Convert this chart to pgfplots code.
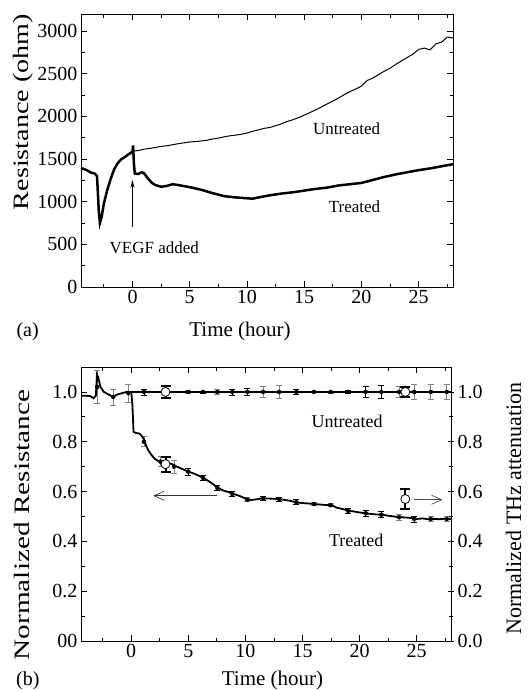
\documentclass[border=0pt]{standalone}
\usepackage{fontspec}
\setmainfont{Liberation Serif}
\usepackage{graphicx}
\usepackage{pgfplots}
\pgfplotsset{compat=1.18}
\usetikzlibrary{arrows.meta}
\pgfplotsset{
  myaxis/.style={
    scale only axis,
    anchor=north west,
    /pgf/number format/assume math mode=true,
    tick label style={font=\fontsize{20}{22}\selectfont},
    tick align=inside,
    major tick length=6pt,
    minor tick length=3.5pt,
    axis line style={line width=1pt},
    every tick/.style={line width=0.8pt, black},
    clip=false,
  },
  ebar/.style={only marks, mark=none, forget plot,
    error bars/.cd, y dir=both, y explicit,
    error bar style={line width=0.7pt, #1},
    error mark options={rotate=90, mark size=3pt, line width=0.7pt, #1}},
}
\begin{document}
\begin{tikzpicture}
\path[use as bounding box] (0,0) rectangle (528pt,-691pt);
% ---------------- (a) ----------------
\begin{axis}[myaxis, at={(81pt,-14pt)}, width=372pt, height=273pt,
  xmin=-4.5, xmax=28, ymin=0, ymax=3200,
  xtick={0,5,10,15,20,25}, xticklabels={0,5,10,15,20,25},
  minor xtick={-2.5,2.5,7.5,12.5,17.5,22.5,27.5},
  ytick={0,500,1000,1500,2000,2500,3000},
  yticklabels={0,500,1000,1500,2000,2500,3000},
  minor ytick={250,750,1250,1750,2250,2750},
]
% untreated (thin)
\addplot[black, line width=1pt] coordinates {
(0,1590)(0.5,1600)(1,1615)(1.5,1625)(2,1635)(2.5,1648)(3,1655)(3.5,1668)(4,1680)(4.5,1690)(5,1700)(5.5,1705)(6,1712)(6.5,1720)(7,1735)(7.5,1745)(8,1760)(8.5,1772)(9,1780)(9.5,1790)(10,1805)(10.5,1825)(11,1842)(11.5,1860)(12,1870)(12.5,1890)(13,1912)(13.5,1940)(14,1960)(14.5,1985)(15,2015)(15.5,2045)(16,2075)(16.5,2110)(17,2145)(17.5,2180)(18,2215)(18.5,2255)(19,2290)(19.5,2320)(20,2355)(20.5,2420)(21,2450)(21.5,2490)(22,2530)(22.5,2565)(23,2610)(23.5,2650)(24,2690)(24.5,2730)(25,2785)(25.5,2800)(26,2780)(26.5,2850)(27,2870)(27.5,2930)(28,2920)
};
% before VEGF (both, thick)
\addplot[black, line width=2.5pt] coordinates {
(-4.5,1395)(-4,1370)(-3.6,1340)(-3.3,1330)(-3.1,1300)(-2.95,900)(-2.85,750)(-2.7,820)(-2.5,980)(-2.2,1140)(-1.9,1270)(-1.6,1380)(-1.3,1450)(-1,1495)(-0.6,1530)(-0.3,1560)(0,1585)
};
% treated (thick)
\addplot[black, line width=2.5pt] coordinates {
(0,1585)(0.05,1660)(0.12,1450)(0.2,1330)(0.5,1325)(0.8,1345)(1.0,1335)(1.3,1280)(1.7,1220)(2,1195)(2.5,1175)(3,1185)(3.5,1205)(4,1195)(5,1170)(6,1140)(7,1100)(8,1065)(9,1050)(10,1040)(10.5,1035)(11,1050)(12,1075)(13,1095)(14,1110)(15,1130)(16,1150)(17,1165)(18,1190)(19,1205)(20,1220)(21,1255)(22,1290)(23,1320)(24,1345)(25,1370)(26,1390)(27,1415)(28,1440)
};
\draw[-{Stealth[length=8pt,width=4pt]}, line width=0.7pt] (axis cs:0,708) -- (axis cs:0,1256);
\node[font=\fontsize{17}{19}\selectfont] at (axis cs:1.9,466) {VEGF added};
\node[font=\fontsize{17}{19}\selectfont] at (axis cs:18.7,1855) {Untreated};
\node[font=\fontsize{17}{19}\selectfont] at (axis cs:19.4,943) {Treated};
\end{axis}
% ---------------- (b) ----------------
\begin{axis}[myaxis, at={(81pt,-367pt)}, width=370pt, height=274pt,
  xmin=-4.4, xmax=28, ymin=0, ymax=1.1,
  xtick={0,5,10,15,20,25}, xticklabels={0,5,10,15,20,25},
  minor xtick={-2.5,2.5,7.5,12.5,17.5,22.5,27.5},
  ytick={0,0.2,0.4,0.6,0.8,1.0},
  yticklabels={00,0.2,0.4,0.6,0.8,1.0},
  minor ytick={0.1,0.3,0.5,0.7,0.9},
  ytick pos=left,
]
% error bars untreated (gray)
\addplot[ebar=gray] coordinates {
(-2.98,1.02) +- (0,0.065)
(-1.58,0.98) +- (0,0.032)
(-0.26,0.995) +- (0,0.035)
(4.99,1.0) +- (0,0.007)
(7.53,1.0) +- (0,0.01)
(11.54,1.0) +- (0,0.022)
(12.94,1.0) +- (0,0.025)
(17.46,1.0) +- (0,0.004)
(23.45,1.0) +- (0,0.022)
(24.77,1.0) +- (0,0.03)
(26.23,1.0) +- (0,0.03)
(27.63,1.0) +- (0,0.03)
};
% error bars untreated (black)
\addplot[ebar=black] coordinates {
(1.11,1.0) +- (0,0.012)
(6.28,1.0) +- (0,0.004)
(8.85,1.0) +- (0,0.012)
(10.16,1.0) +- (0,0.015)
(14.46,1.0) +- (0,0.01)
(16.0,1.0) +- (0,0.003)
(19.0,1.0) +- (0,0.006)
(20.53,1.0) +- (0,0.022)
(21.9,1.0) +- (0,0.025)
};
% error bars treated (gray)
\addplot[ebar=gray] coordinates {
(1.11,0.80) +- (0,0.02)
(2.57,0.72) +- (0,0.02)
(3.74,0.70) +- (0,0.025)
(10.16,0.567) +- (0,0.008)
(16.0,0.55) +- (0,0.006)
(17.46,0.545) +- (0,0.006)
(23.45,0.497) +- (0,0.012)
(26.23,0.49) +- (0,0.01)
(27.63,0.49) +- (0,0.01)
};
% error bars treated (black)
\addplot[ebar=black] coordinates {
(4.99,0.68) +- (0,0.015)
(6.28,0.655) +- (0,0.01)
(7.53,0.615) +- (0,0.01)
(8.85,0.59) +- (0,0.01)
(11.54,0.573) +- (0,0.008)
(12.94,0.57) +- (0,0.008)
(14.46,0.557) +- (0,0.01)
(19.0,0.522) +- (0,0.01)
(20.53,0.513) +- (0,0.012)
(21.9,0.507) +- (0,0.012)
(24.77,0.49) +- (0,0.012)
};
% before VEGF
\addplot[black, line width=1.8pt] coordinates {
(-4.4,0.985)(-4,0.985)(-3.6,0.983)(-3.3,0.975)(-3.1,0.985)(-3.0,1.07)(-2.9,1.06)(-2.7,1.02)(-2.4,1.0)(-2.0,0.99)(-1.6,0.98)(-1.2,0.99)(-0.8,0.995)(-0.4,1.0)(0,1.0)
};
% untreated
\addplot[black, line width=1.8pt] coordinates {(0,1.0)(28,1.0)};
% treated
\addplot[black, line width=1.8pt] coordinates {
(0,1.0)(0.1,0.95)(0.2,0.84)(0.4,0.835)(0.7,0.833)(0.9,0.825)(1.1,0.81)(1.3,0.785)(1.5,0.765)(1.8,0.745)(2.1,0.73)(2.5,0.718)(3,0.712)(3.5,0.712)(4,0.70)(4.5,0.69)(5,0.68)(5.5,0.672)(6,0.662)(6.5,0.65)(7,0.635)(7.5,0.618)(8,0.605)(8.5,0.598)(9,0.59)(9.5,0.582)(10,0.572)(10.5,0.566)(11,0.569)(11.5,0.573)(12,0.572)(12.5,0.571)(13,0.569)(13.5,0.566)(14,0.562)(14.5,0.556)(15,0.554)(15.5,0.552)(16,0.55)(16.5,0.548)(17,0.546)(17.5,0.547)(18,0.535)(18.5,0.53)(19,0.524)(19.5,0.52)(20,0.516)(20.5,0.513)(21,0.51)(21.5,0.508)(22,0.507)(22.5,0.503)(23,0.5)(23.5,0.497)(24,0.496)(24.5,0.494)(25,0.49)(25.5,0.492)(26,0.489)(26.5,0.49)(27,0.489)(27.5,0.491)(28,0.49)
};
\draw[-{Straight Barb[length=10pt,width=9pt]}, black!80, line width=0.7pt] (axis cs:7.55,0.583) -- (axis cs:1.93,0.583);
\node[font=\fontsize{18}{20}\selectfont] at (axis cs:18.9,0.882) {Untreated};
\node[font=\fontsize{18}{20}\selectfont] at (axis cs:19.7,0.406) {Treated};
\end{axis}
% right axis (THz)
\begin{axis}[myaxis, at={(81pt,-367pt)}, width=370pt, height=274pt,
  xmin=-4.4, xmax=28, ymin=0, ymax=1.1,
  axis x line=none, axis y line*=right,
  ytick={0,0.2,0.4,0.6,0.8,1.0},
  yticklabels={0.0,0.2,0.4,0.6,0.8,1.0},
  minor ytick={0.1,0.3,0.5,0.7,0.9},
  tick align=center,
]
\addplot[only marks, mark=*, mark size=4.5pt, mark options={fill=white, draw=black, line width=0.8pt},
  error bars/.cd, y dir=both, y explicit,
  error bar style={line width=2pt, black},
  error mark options={rotate=90, mark size=5pt, line width=2pt, black}]
coordinates {
(3,1.0) +- (0,0.025)
(3,0.71) +- (0,0.03)
(24,1.0) +- (0,0.02)
(24,0.57) +- (0,0.04)
};
\draw[-{Straight Barb[length=10pt,width=9pt]}, black!70, line width=0.7pt] (axis cs:24.8,0.567) -- (axis cs:27.25,0.567);
\end{axis}
% outer labels
\node[rotate=90, anchor=base, font=\fontsize{22}{24}\selectfont] at (28.5pt,-112pt) {\scalebox{1.28}[1]{Resistance (ohm)}};
\node[rotate=90, anchor=base, font=\fontsize{22}{24}\selectfont] at (29.3pt,-525pt) {\scalebox{1.33}[1]{Normalized Resistance}};
\node[rotate=90, anchor=base, font=\fontsize{22}{24}\selectfont] at (521pt,-508.5pt) {Normalized THz attenuation};
\node[anchor=base, font=\fontsize{21}{23}\selectfont] at (240pt,-336pt) {Time (hour)};
\node[anchor=base west, font=\fontsize{20}{22}\selectfont] at (13pt,-336pt) {(a)};
\node[anchor=base, font=\fontsize{21}{23}\selectfont] at (272.5pt,-685.5pt) {Time (hour)};
\node[anchor=base west, font=\fontsize{20}{22}\selectfont] at (12.7pt,-685.5pt) {(b)};
\end{tikzpicture}
\end{document}
